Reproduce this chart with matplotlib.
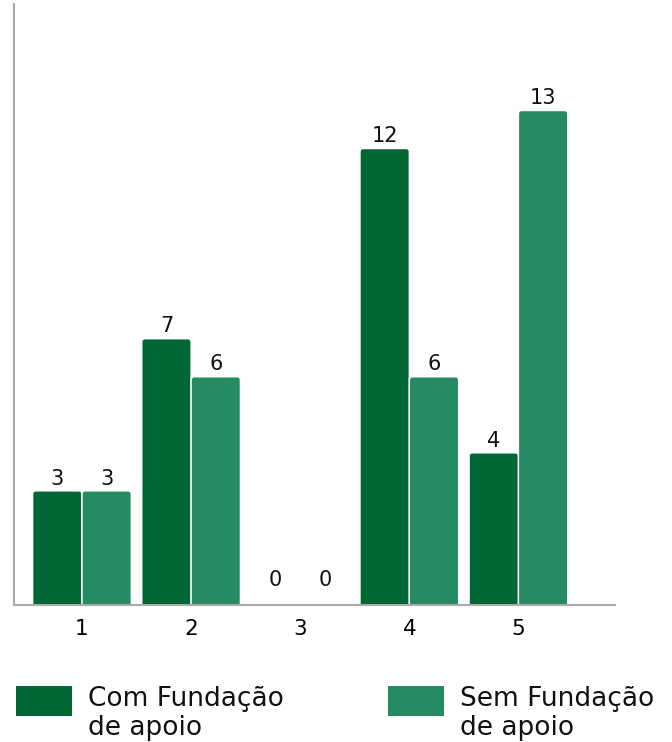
import matplotlib
matplotlib.use("Agg")
import matplotlib.pyplot as plt
from matplotlib.patches import Rectangle, FancyBboxPatch
import numpy as np

categories = ["1", "2", "3", "4", "5"]
com_fundacao = [3, 7, 0, 12, 4]
sem_fundacao = [3, 6, 0, 6, 13]
series_names = ["Com Fundação\nde apoio", "Sem Fundação\nde apoio"]
colors = ["#006633", "#268A63"]

W, H = 672, 742
fig = plt.figure(figsize=(W/100, H/100), dpi=100)
ax = fig.add_axes([14/W, 1-605/H, (615-14)/W, (605-4)/H])

ax.set_xlim(-0.623, 4.885)
ax.set_ylim(0, 15.8)

x = np.arange(len(categories))
w = 0.452
# pixel -> data conversions for rounded corners
xu_per_px = (4.885 + 0.623) / (615 - 14)
yu_per_px = 15.8 / (605 - 4)
r = 3 * xu_per_px
aspect = yu_per_px / xu_per_px

for vals, off, c in [(com_fundacao, -w/2, colors[0]), (sem_fundacao, w/2, colors[1])]:
    bars = ax.bar(x + off, vals, width=w, color=c, edgecolor="white", linewidth=1)
    for b in bars:
        h = b.get_height()
        if h > 0:
            fb = FancyBboxPatch((b.get_x(), -0.2), b.get_width(), h + 0.2,
                                boxstyle=f"round,pad=0,rounding_size={r}",
                                mutation_aspect=aspect, facecolor=c,
                                edgecolor="white", linewidth=1)
            ax.add_patch(fb)
        b.set_visible(False)
    for xi, v in zip(x + off, vals):
        ax.text(xi, v + (0.06 if v > 0 else 0.4), str(v), ha="center", va="bottom",
                fontsize=15, color="#111111")

ax.set_xticks(x)
ax.set_xticklabels(categories, fontsize=15.5)
ax.set_yticks([])
ax.tick_params(axis="x", length=0, pad=10)
for s in ["top", "right"]:
    ax.spines[s].set_visible(False)
for s in ["left", "bottom"]:
    ax.spines[s].set_color("#aaaaaa")
    ax.spines[s].set_linewidth(1.5)
    ax.spines[s].set_zorder(3)

# legend drawn manually
for (px, tx), name, c in zip([(16, 88), (388, 460)], series_names, colors):
    fig.add_artist(Rectangle((px/W, 1-716/H), 56/W, 30/H, transform=fig.transFigure,
                             facecolor=c, edgecolor="none"))
    fig.text(tx/W, 1-686/H, name, ha="left", va="top", fontsize=19,
             linespacing=1.13, color="#111111")

fig.savefig("out.png", dpi=100)
